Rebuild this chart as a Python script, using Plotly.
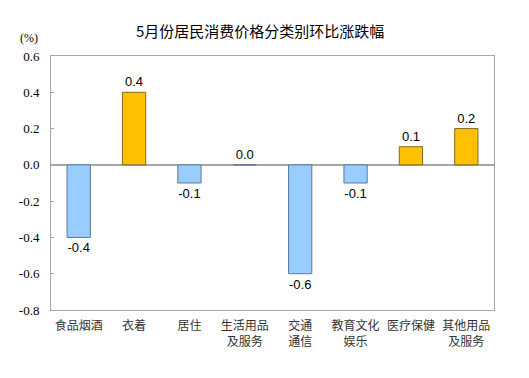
import plotly.graph_objects as go

categories = ["食品烟酒", "衣着", "居住", "生活用品<br>及服务", "交通<br>通信", "教育文化<br>娱乐", "医疗保健", "其他用品<br>及服务"]
values = [-0.4, 0.4, -0.1, 0.0, -0.6, -0.1, 0.1, 0.2]
ytick_vals = [0.6, 0.4, 0.2, 0.0, -0.2, -0.4, -0.6, -0.8]
ytick_text = ["0.6", "0.4", "0.2", "0.0", "-0.2", "-0.4", "-0.6", "-0.8"]

fill = ["#FFC000" if v > 0 else "#99CCFF" for v in values]
edge = ["#7F6A1F" if v > 0 else "#5B7A99" for v in values]

fig = go.Figure(go.Bar(
    x=categories, y=values,
    marker=dict(color=fill, line=dict(color=edge, width=1)),
    text=[f"{v:.1f}" for v in values],
    textposition="outside",
    textfont=dict(family="Liberation Sans, Arial", size=13, color="#000000"),
    cliponaxis=False,
    width=0.42,
))

fig.update_layout(
    width=521, height=370,
    margin=dict(l=43, r=35, t=48, b=68, autoexpand=False),
    paper_bgcolor="white", plot_bgcolor="white",
    showlegend=False,
    title=dict(text="5月份居民消费价格分类别环比涨跌幅", x=0.484, xanchor="center", y=0.935, yanchor="middle",
               font=dict(family="Noto Sans CJK SC", size=15, color="#000000")),
    annotations=[dict(text="(%)", xref="paper", yref="paper", x=-0.025, y=1.035, xanchor="right", yanchor="bottom",
                      showarrow=False, font=dict(family="Liberation Serif", size=12, color="#000000"))],
)
fig.update_yaxes(range=[-0.8, 0.6], tickvals=ytick_vals, ticktext=ytick_text, automargin=False,
                 showgrid=False, zeroline=True, zerolinecolor="#A6A6A6", zerolinewidth=2,
                 showline=True, linecolor="#A6A6A6", linewidth=1, mirror=True,
                 ticks="inside", ticklen=3, tickcolor="#A6A6A6", ticklabelstandoff=8,
                 tickfont=dict(family="Liberation Serif", size=13, color="#000000"))
fig.update_xaxes(showgrid=False, showline=True, linecolor="#A6A6A6", linewidth=1, mirror=True, automargin=False,
                 ticks="", ticklabelstandoff=5,
                 tickfont=dict(family="Noto Sans CJK SC", size=12, color="#333333"))

fig.write_html("out.html")
